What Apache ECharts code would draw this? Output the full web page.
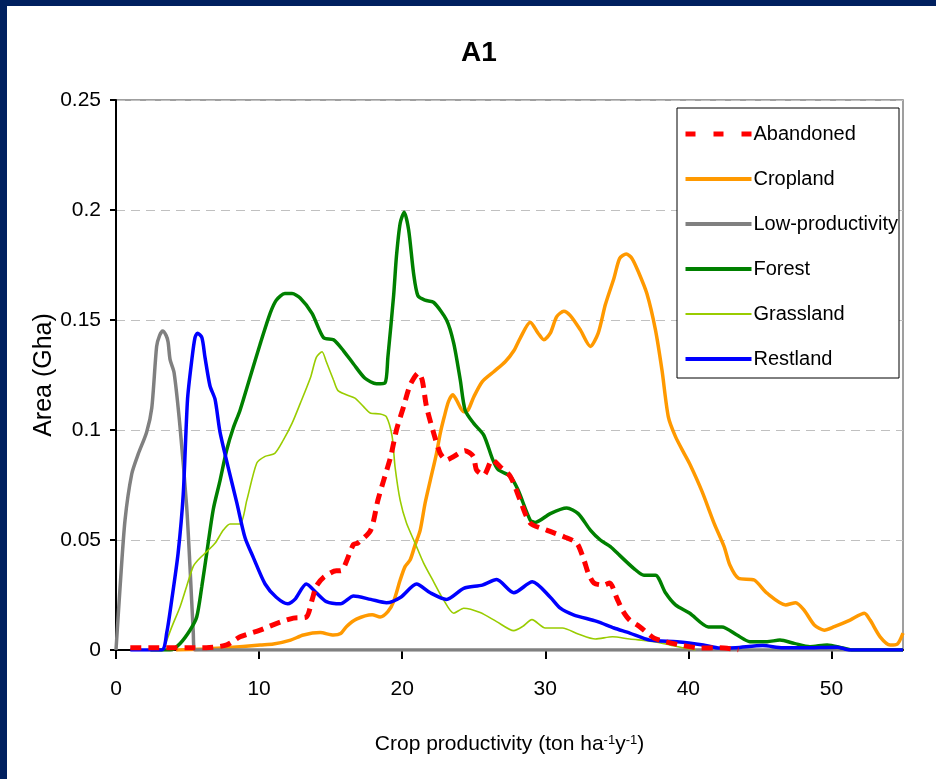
<!DOCTYPE html>
<html>
<head>
<meta charset="utf-8">
<script src="https://cdn.jsdelivr.net/npm/echarts@6/dist/echarts.min.js"></script>
<style>
  html, body { margin: 0; padding: 0; background: #00205F; width: 936px; height: 779px; overflow: hidden; }
  #chart { position: absolute; left: 7px; top: 6px; width: 929px; height: 773px; background: #ffffff; }
</style>
</head>
<body>
<div id="chart"></div>
<script>
// ---- data (x = crop productivity, y = area in Gha) ----
const titleText = 'A1';
const seriesNames = ['Abandoned', 'Cropland', 'Low-productivity', 'Forest', 'Grassland', 'Restland'];
const xTicks = [0, 10, 20, 30, 40, 50];

const abandoned = [[1,0.001],[3,0.001],[5,0.001],[6.3,0.001],[7.74,0.0023],[8.67,0.006],[10.07,0.009],[11.2,0.012],[12.4,0.0145],[13.3,0.015],[13.7,0.0227],[14.0,0.029],[14.5,0.033],[15.4,0.036],[15.7,0.036],[16.6,0.048],[16.9,0.0486],[17.8,0.0545],[18.3,0.068],[18.7,0.077],[19.2,0.088],[19.6,0.100],[20.1,0.1106],[20.56,0.1205],[21.14,0.126],[21.4,0.1227],[21.7,0.1106],[22.2,0.0986],[22.66,0.0894],[23.1,0.0864],[23.6,0.088],[24.4,0.0906],[24.97,0.088],[25.2,0.0818],[25.7,0.0795],[26.3,0.0864],[26.85,0.0833],[27.55,0.079],[28.25,0.068],[28.95,0.0577],[30.1,0.0545],[31.3,0.0515],[32.2,0.0486],[32.7,0.041],[33.0,0.035],[33.4,0.0305],[34.1,0.0295],[34.5,0.0305],[35.0,0.0236],[35.4,0.018],[35.9,0.0136],[36.6,0.0106],[37.6,0.0054],[38.4,0.0038],[39.65,0.002],[40.8,0.0009],[42.2,0.001],[43.5,0]];

const cropland = [[4.2,0],[6.3,0.0005],[7.7,0.001],[10.07,0.0023],[11.0,0.0027],[12.2,0.0045],[13.1,0.0068],[14.27,0.0079],[15.2,0.0068],[15.7,0.0075],[16.1,0.0106],[16.8,0.014],[17.9,0.016],[18.46,0.015],[19.0,0.0174],[19.4,0.022],[19.86,0.0318],[20.2,0.0379],[20.56,0.041],[20.9,0.0477],[21.26,0.0545],[21.6,0.0667],[21.96,0.077],[22.4,0.0894],[22.66,0.0985],[22.94,0.106],[23.24,0.113],[23.54,0.116],[23.8,0.1136],[24.3,0.1083],[24.6,0.109],[25.0,0.115],[25.6,0.122],[26.4,0.1265],[27.2,0.131],[27.8,0.136],[28.25,0.1418],[28.95,0.149],[29.5,0.144],[29.9,0.141],[30.35,0.144],[30.8,0.1515],[31.3,0.154],[31.75,0.152],[32.45,0.1455],[33.15,0.138],[33.7,0.144],[34.2,0.157],[34.8,0.169],[35.2,0.178],[35.66,0.180],[36.06,0.178],[36.5,0.172],[37.1,0.162],[37.7,0.1455],[38.16,0.127],[38.6,0.106],[39.1,0.097],[39.7,0.0894],[40.14,0.084],[40.96,0.072],[41.8,0.0576],[42.5,0.047],[42.9,0.0386],[43.5,0.0326],[44.6,0.0318],[45.5,0.0258],[46.8,0.0205],[47.5,0.0215],[48.1,0.018],[48.8,0.0114],[49.5,0.009],[50.2,0.0106],[51.3,0.0136],[52.3,0.0167],[52.7,0.0136],[53.4,0.006],[54.1,0.0023],[54.6,0.0027],[55,0.0077]];

const lowProductivity = [[0,0],[0.3,0.03],[0.63,0.059],[1.1,0.080],[1.55,0.089],[2.14,0.099],[2.5,0.11],[2.84,0.138],[3.05,0.143],[3.26,0.145],[3.5,0.143],[3.64,0.140],[3.78,0.132],[4.06,0.126],[4.48,0.101],[4.94,0.065],[5.17,0.038],[5.4,0.008],[5.5,0],[10,0],[20,0],[30,0],[40,0],[55,0]];

const forest = [[2.4,0],[3.8,0],[4.48,0.003],[5.17,0.009],[5.64,0.015],[6.0,0.029],[6.34,0.044],[6.8,0.064],[7.27,0.077],[7.74,0.091],[8.2,0.101],[8.67,0.109],[9.37,0.124],[10.07,0.139],[10.77,0.153],[11.2,0.159],[11.8,0.162],[12.3,0.162],[12.87,0.160],[13.7,0.153],[14.5,0.142],[15.2,0.141],[15.9,0.136],[16.6,0.130],[17.4,0.1235],[18.2,0.121],[18.8,0.1214],[19.0,0.133],[19.4,0.161],[19.6,0.179],[19.86,0.194],[20.14,0.199],[20.45,0.191],[20.8,0.171],[21.1,0.161],[21.6,0.159],[22.2,0.158],[23.1,0.150],[23.6,0.1395],[24.06,0.1227],[24.4,0.109],[25.0,0.103],[25.7,0.0977],[26.3,0.087],[26.7,0.082],[27.55,0.079],[28.1,0.0727],[28.95,0.059],[29.3,0.058],[30.35,0.062],[31.5,0.0645],[32.3,0.062],[33.15,0.0545],[33.85,0.050],[34.55,0.047],[35.2,0.043],[36.2,0.037],[36.9,0.034],[37.7,0.034],[38.4,0.026],[39.1,0.0205],[40.1,0.0167],[41.4,0.0105],[42.35,0.0105],[43.4,0.0068],[44.3,0.0038],[45.5,0.0038],[46.4,0.0045],[47.4,0.003],[48.5,0.0015],[49.7,0.0023],[50.8,0.0009],[51.5,0],[55,0]];

const grassland = [[3.3,0],[3.9,0.0105],[4.48,0.0197],[4.94,0.029],[5.4,0.038],[5.75,0.041],[6.34,0.0447],[6.92,0.0485],[7.5,0.0545],[7.97,0.0573],[8.67,0.0573],[9.14,0.068],[9.84,0.085],[10.42,0.088],[11.1,0.0894],[11.7,0.0955],[12.3,0.103],[12.87,0.112],[13.6,0.124],[14.0,0.133],[14.4,0.1356],[14.7,0.131],[15.2,0.1227],[15.5,0.118],[16.1,0.116],[16.7,0.1145],[17.3,0.1106],[17.8,0.1076],[18.46,0.1073],[18.9,0.106],[19.3,0.097],[19.5,0.0833],[19.86,0.068],[20.3,0.0577],[20.9,0.0486],[21.5,0.0395],[22.2,0.031],[22.9,0.0227],[23.6,0.0167],[24.3,0.019],[25.45,0.017],[26.6,0.0129],[27.8,0.0088],[28.4,0.0106],[29.07,0.0138],[30.0,0.010],[31.2,0.010],[32.3,0.0073],[33.5,0.005],[34.7,0.006],[35.9,0.005],[37.6,0.0038],[38.7,0.0023],[39.7,0.0009],[40.5,0]];

const restland = [[1,0],[3.2,0],[3.55,0.008],[3.9,0.023],[4.34,0.044],[4.7,0.071],[5.0,0.114],[5.3,0.132],[5.52,0.142],[5.69,0.144],[6.0,0.142],[6.22,0.133],[6.57,0.12],[6.92,0.114],[7.27,0.099],[7.84,0.083],[8.44,0.067],[9.02,0.051],[9.6,0.042],[10.42,0.030],[11.2,0.024],[12.0,0.021],[12.5,0.023],[13.3,0.030],[14.0,0.026],[14.7,0.022],[15.7,0.021],[16.6,0.0245],[17.8,0.023],[18.9,0.0215],[19.9,0.024],[21.0,0.030],[21.96,0.026],[23.1,0.023],[24.3,0.028],[25.6,0.0295],[26.6,0.032],[27.8,0.026],[29.1,0.031],[30.35,0.024],[31.05,0.019],[31.97,0.016],[33.6,0.013],[34.8,0.010],[35.9,0.0077],[37.3,0.0045],[39.2,0.0038],[41.05,0.0023],[42.2,0.0009],[43.3,0.001],[45.2,0.002],[46.6,0.001],[48,0.001],[50.4,0.0013],[51.3,0],[55,0]];

// ---- styling ----
const FONT = "'Liberation Sans', Arial, sans-serif";

function line(name, data, color, width, type) {
  return {
    name: name, type: 'line', data: data, symbol: 'none', smooth: 0.25,
    lineStyle: { color: color, width: width, type: type || 'solid', cap: 'butt' },
    itemStyle: { color: color },
    emphasis: { disabled: true }
  };
}

const chart = echarts.init(document.getElementById('chart'), null, { renderer: 'canvas' });
chart.setOption({
  animation: false,
  backgroundColor: '#ffffff',
  title: {
    text: titleText, left: 454, top: 33, padding: 0,
    textStyle: { fontFamily: FONT, fontWeight: 'bold', fontSize: 28, color: '#000' }
  },
  grid: { left: 109, top: 94, right: 33, bottom: 129, show: true, borderColor: '#808080', borderWidth: 1.5, containLabel: false },
  legend: {
    orient: 'vertical', left: 670, top: 102,
    padding: [16, 1, 9, 6],
    backgroundColor: '#ffffff', borderColor: '#000000', borderWidth: 1, borderRadius: 0,
    itemWidth: 66, itemHeight: 24, itemGap: 25,
    itemStyle: { opacity: 0, borderWidth: 0 },
    textStyle: { fontFamily: FONT, fontSize: 20, color: '#000', padding: [0, 0, 0, -3] },
    data: [
      { name: 'Abandoned', lineStyle: { type: [10, 18], width: 5, color: '#FF0000' } },
      { name: 'Cropland', lineStyle: { width: 4, color: '#FF9900' } },
      { name: 'Low-productivity', lineStyle: { width: 4, color: '#808080' } },
      { name: 'Forest', lineStyle: { width: 4, color: '#008000' } },
      { name: 'Grassland', lineStyle: { width: 1.8, color: '#99CC00' } },
      { name: 'Restland', lineStyle: { width: 4, color: '#0000FF' } }
    ]
  },
  xAxis: {
    type: 'value', min: 0, max: 55, interval: 10,
    name: 'Crop productivity (ton ha{s|-1}y{s|-1})',
    nameLocation: 'middle', nameGap: 84, nameMoveOverlap: false,
    nameTextStyle: {
      fontFamily: FONT, fontSize: 21, color: '#000',
      rich: { s: { fontFamily: FONT, fontSize: 13, color: '#000', verticalAlign: 'top', lineHeight: 14 } }
    },
    axisLine: { show: true, onZero: false, lineStyle: { color: '#000', width: 2 } },
    axisTick: { show: true, inside: false, length: 9, lineStyle: { color: '#000', width: 2 }, customValues: xTicks },
    axisLabel: { margin: 29, fontFamily: FONT, fontSize: 21, color: '#000', customValues: xTicks },
    splitLine: { show: false }
  },
  yAxis: {
    type: 'value', min: 0, max: 0.25, interval: 0.05,
    name: 'Area (Gha)', nameLocation: 'middle', nameGap: 59, nameRotate: 90, nameMoveOverlap: false,
    nameTextStyle: { fontFamily: FONT, fontSize: 25, color: '#000' },
    axisLine: { show: true, lineStyle: { color: '#000', width: 2 } },
    axisTick: { show: true, inside: false, length: 6, lineStyle: { color: '#000', width: 2 } },
    axisLabel: { margin: 15, fontFamily: FONT, fontSize: 21, color: '#000' },
    splitLine: { show: true, lineStyle: { color: '#C0C0C0', width: 1, type: [9, 6] } }
  },
  series: [
    line('Cropland', cropland, '#FF9900', 3.5),
    line('Low-productivity', lowProductivity, '#808080', 3.5),
    line('Forest', forest, '#008000', 3.5),
    line('Grassland', grassland, '#99CC00', 1.6),
    line('Restland', restland, '#0000FF', 3.5),
    line('Abandoned', abandoned, '#FF0000', 5, [11, 7])
  ]
});
</script>
</body>
</html>
